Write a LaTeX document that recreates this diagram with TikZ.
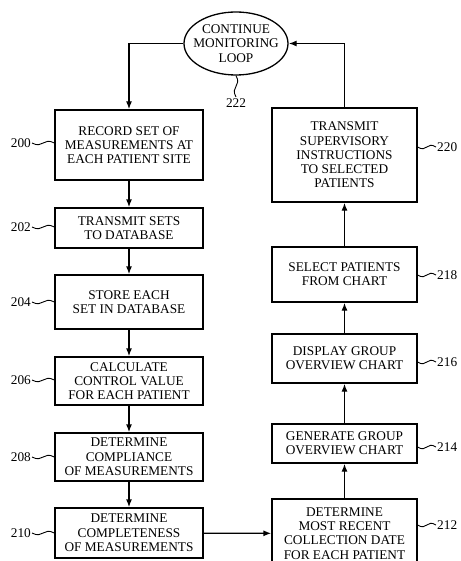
\documentclass[tikz,border=0pt]{standalone}
\usepackage{fontspec}
\setmainfont{Liberation Serif}
\usetikzlibrary{shapes.geometric,calc,arrows.meta}

\tikzset{
  stepbox/.style={draw, line width=1.3pt, align=center, inner sep=2pt,
    font=\fontsize{13.3}{14.3}\selectfont},
  refnum/.style={inner sep=1pt, font=\fontsize{13.3}{14.3}\selectfont},
  flow/.style={line width=1.3pt, -{Latex[length=8pt,width=6pt]}},
  hsquig/.style={line width=0.9pt, to path={(\tikztostart) .. controls ($(\tikztostart)!0.5!(\tikztotarget)+(0,6)$) and ($(\tikztostart)!0.5!(\tikztotarget)+(0,-6)$) .. (\tikztotarget)}},
  vsquig/.style={line width=0.9pt, to path={(\tikztostart) .. controls ($(\tikztostart)!0.5!(\tikztotarget)+(6,0)$) and ($(\tikztostart)!0.5!(\tikztotarget)+(-6,0)$) .. (\tikztotarget)}},
}

\begin{document}
\begin{tikzpicture}[x=1pt, y=-1pt]
  \useasboundingbox (0,0) rectangle (460,561);

  % loop node at the top
  \node[draw, ellipse, line width=1.3pt, minimum width=104pt, minimum height=63pt, inner sep=0pt] (loop) at (236,43.5) {};
  \node[align=center, inner sep=0pt, font=\fontsize{13.3}{14.3}\selectfont] (looptxt) at (loop) {CONTINUE\\MONITORING\\LOOP};

  % left column
  \node[stepbox, minimum width=148pt, minimum height=70pt] (b200) at (129,145) {RECORD SET OF\\MEASUREMENTS AT\\EACH PATIENT SITE};
  \node[stepbox, minimum width=148pt, minimum height=40pt] (b202) at (129,228) {TRANSMIT SETS\\TO DATABASE};
  \node[stepbox, minimum width=148pt, minimum height=54pt] (b204) at (129,302) {STORE EACH\\SET IN DATABASE};
  \node[stepbox, minimum width=148pt, minimum height=48pt] (b206) at (129,381) {CALCULATE\\CONTROL VALUE\\FOR EACH PATIENT};
  \node[stepbox, minimum width=148pt, minimum height=48pt] (b208) at (129,457) {DETERMINE\\COMPLIANCE\\OF MEASUREMENTS};
  \node[stepbox, minimum width=148pt, minimum height=50pt] (b210) at (129,533) {DETERMINE\\COMPLETENESS\\OF MEASUREMENTS};

  % right column
  \node[stepbox, minimum width=145pt, minimum height=69pt] (b212) at (344.5,533.5) {DETERMINE\\MOST RECENT\\COLLECTION DATE\\FOR EACH PATIENT};
  \node[stepbox, minimum width=145pt, minimum height=39pt] (b214) at (344.5,443.5) {GENERATE GROUP\\OVERVIEW CHART};
  \node[stepbox, minimum width=145pt, minimum height=49pt] (b216) at (344.5,358.5) {DISPLAY GROUP\\OVERVIEW CHART};
  \node[stepbox, minimum width=145pt, minimum height=55pt] (b218) at (344.5,274.5) {SELECT PATIENTS\\FROM CHART};
  \node[stepbox, minimum width=145pt, minimum height=94pt] (b220) at (344.5,155) {TRANSMIT\\SUPERVISORY\\INSTRUCTIONS\\TO SELECTED\\PATIENTS};

  % reference numerals
  \node[refnum, anchor=east] (l200) at (32,143) {200};
  \node[refnum, anchor=east] (l202) at (32,227) {202};
  \node[refnum, anchor=east] (l204) at (32,302) {204};
  \node[refnum, anchor=east] (l206) at (32,380) {206};
  \node[refnum, anchor=east] (l208) at (32,457) {208};
  \node[refnum, anchor=east] (l210) at (32,533) {210};
  \node[refnum, anchor=west] (l212) at (436,525) {212};
  \node[refnum, anchor=west] (l214) at (436,447) {214};
  \node[refnum, anchor=west] (l216) at (436,362) {216};
  \node[refnum, anchor=west] (l218) at (436,275) {218};
  \node[refnum, anchor=west] (l220) at (436,147) {220};
  \node[refnum, anchor=north] (l222) at (236,97) {222};

  \foreach \n in {200,202,204,206,208,210}
    \draw[hsquig] (l\n.east) to (l\n.east -| b\n.west);
  \foreach \n in {212,214,216,218,220}
    \draw[hsquig] (l\n.west -| b\n.east) to (l\n.west);
  \draw[vsquig] (loop.south) to (l222.north);

  % flow
  \draw[flow] (loop.west) -| (b200.north);
  \draw[flow] (b200) -- (b202);
  \draw[flow] (b202) -- (b204);
  \draw[flow] (b204) -- (b206);
  \draw[flow] (b206) -- (b208);
  \draw[flow] (b208) -- (b210);
  \draw[flow] (b210) -- (b212);
  \draw[flow] (b212) -- (b214);
  \draw[flow] (b214) -- (b216);
  \draw[flow] (b216) -- (b218);
  \draw[flow] (b218) -- (b220);
  \draw[flow] (b220.north) |- (loop.east);
\end{tikzpicture}
\end{document}
